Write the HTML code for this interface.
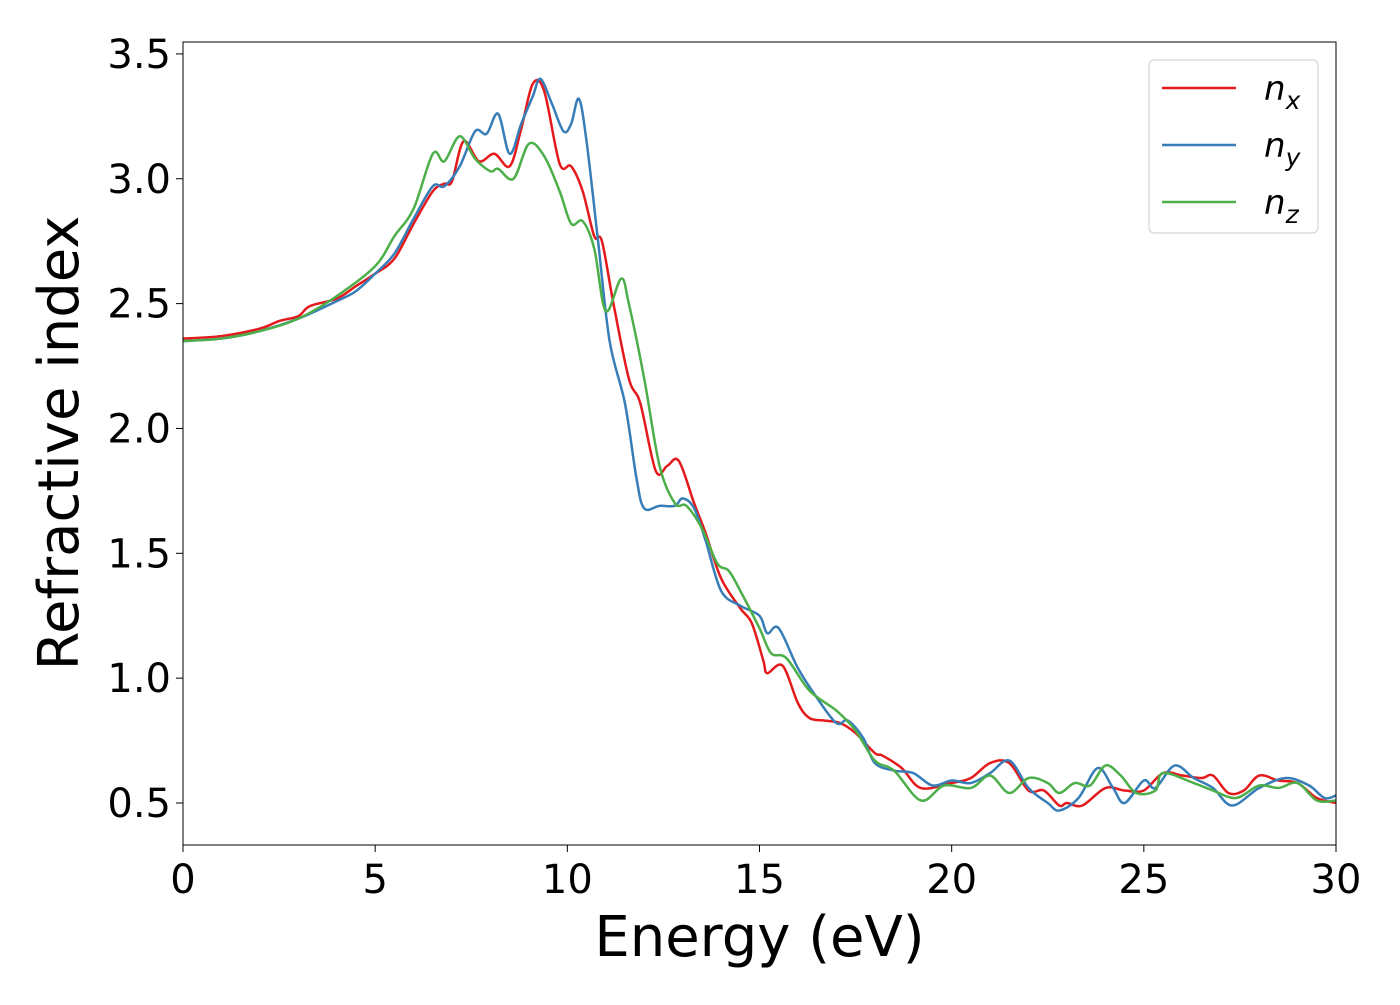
<!DOCTYPE html>
<html><head><meta charset="utf-8"><style>
body{margin:0;background:#fff;}
svg text{font-family:"DejaVu Sans","Liberation Sans",sans-serif;fill:#000;}
</style></head><body>
<svg id="chart" width="1400" height="1000" xmlns="http://www.w3.org/2000/svg">
<g id="plot"></g>
</svg>
<script>
const nxE=[0,1,2,2.5,3,3.3,4,4.5,5,5.5,6,6.5,6.8,7,7.3,7.7,8.1,8.5,8.8,9.1,9.4,9.8,10.1,10.4,10.7,10.9,11.2,11.6,11.9,12.3,12.6,12.9,13.3,13.6,14,14.5,14.8,15.1,15.2,15.6,16,16.3,16.7,17.1,17.5,18,18.2,18.7,19.2,20,20.5,21,21.5,22,22.4,22.8,23,23.4,24,24.5,25,25.5,26,26.5,26.8,27.2,27.6,28,28.5,29,29.5,30];
const nxV=[2.36,2.37,2.40,2.43,2.45,2.49,2.52,2.57,2.62,2.68,2.82,2.95,2.98,2.99,3.15,3.07,3.10,3.05,3.2,3.38,3.35,3.06,3.05,2.95,2.77,2.75,2.50,2.20,2.10,1.83,1.85,1.87,1.70,1.58,1.40,1.28,1.22,1.07,1.02,1.05,0.90,0.84,0.83,0.82,0.78,0.70,0.69,0.64,0.56,0.58,0.60,0.66,0.66,0.55,0.55,0.49,0.50,0.49,0.56,0.55,0.55,0.62,0.61,0.60,0.61,0.54,0.55,0.61,0.59,0.58,0.52,0.50];
const nyE=[0,1,2,3,4,4.5,5,5.5,6,6.5,6.8,7.2,7.6,7.9,8.2,8.5,8.8,9.1,9.3,9.6,9.9,10.1,10.3,10.5,10.8,11.1,11.5,11.8,12,12.4,12.8,13,13.3,13.6,14,14.5,15,15.2,15.5,16,16.5,17,17.3,17.7,18,18.5,19,19.5,20,20.5,21,21.5,22,22.5,22.8,23.3,23.8,24.2,24.5,25,25.3,25.8,26.3,26.8,27.3,28,28.7,29.3,29.7,30];
const nyV=[2.35,2.36,2.39,2.44,2.51,2.55,2.62,2.70,2.84,2.97,2.97,3.05,3.19,3.18,3.26,3.10,3.22,3.33,3.40,3.30,3.19,3.22,3.32,3.15,2.75,2.35,2.10,1.80,1.68,1.69,1.69,1.72,1.68,1.55,1.35,1.29,1.25,1.18,1.20,1.04,0.92,0.82,0.83,0.76,0.66,0.63,0.62,0.57,0.59,0.58,0.62,0.67,0.56,0.50,0.47,0.52,0.64,0.56,0.50,0.59,0.56,0.65,0.60,0.56,0.49,0.56,0.60,0.57,0.52,0.53];
const nzE=[0,1,2,3,4,5,5.5,6,6.5,6.8,7.2,7.6,8,8.2,8.6,9,9.4,9.8,10.1,10.4,10.7,11,11.4,11.6,12,12.4,12.8,13.1,13.5,13.9,14.2,14.5,15,15.3,15.7,16.3,17,17.5,18,18.5,19.2,19.8,20.5,21,21.5,22,22.5,22.8,23.2,23.6,24,24.4,24.8,25.3,25.5,26.3,26.8,27.4,28,28.5,29,29.5,30];
const nzV=[2.35,2.36,2.39,2.44,2.53,2.65,2.77,2.88,3.10,3.07,3.17,3.08,3.03,3.04,3.00,3.14,3.09,2.95,2.82,2.83,2.72,2.47,2.60,2.50,2.20,1.85,1.70,1.69,1.60,1.46,1.43,1.35,1.20,1.10,1.08,0.95,0.87,0.79,0.67,0.63,0.51,0.57,0.56,0.61,0.54,0.60,0.58,0.54,0.58,0.57,0.65,0.61,0.54,0.55,0.62,0.58,0.55,0.52,0.57,0.56,0.58,0.51,0.51];
const xTicks=[0,5,10,15,20,25,30];
const yTicks=[0.5,1.0,1.5,2.0,2.5,3.0,3.5];

const L=183,R=1336,T=42,B=845;
const xs=e=>L+(e-0)/30*(R-L);
const ys=v=>803-(v-0.5)*249.7;
const NS='http://www.w3.org/2000/svg';
const g=document.getElementById('plot');
function mk(tag,attrs){const el=document.createElementNS(NS,tag);for(const k in attrs)el.setAttribute(k,attrs[k]);g.appendChild(el);return el;}
function pathD(E,V){
  const p=E.map((e,i)=>[xs(e),ys(V[i])]);
  let d='M'+p[0][0]+','+p[0][1];
  for(let i=0;i<p.length-1;i++){
    const p0=p[Math.max(0,i-1)],p1=p[i],p2=p[i+1],p3=p[Math.min(p.length-1,i+2)];
    const c1=[p1[0]+(p2[0]-p0[0])/6,p1[1]+(p2[1]-p0[1])/6];
    const c2=[p2[0]-(p3[0]-p1[0])/6,p2[1]-(p3[1]-p1[1])/6];
    d+=' C'+c1[0]+','+c1[1]+' '+c2[0]+','+c2[1]+' '+p2[0]+','+p2[1];
  }
  return d;
}
const clip=mk('clipPath',{id:'clip'});
const cr=document.createElementNS(NS,'rect');cr.setAttribute('x',L);cr.setAttribute('y',T);cr.setAttribute('width',R-L);cr.setAttribute('height',B-T);clip.appendChild(cr);
const series=[[nxE,nxV,'#e41a1c','series-nx'],[nyE,nyV,'#377eb8','series-ny'],[nzE,nzV,'#4daf4a','series-nz']];
series.forEach(s=>{
  const p=mk('path',{d:pathD(s[0],s[1]),fill:'none',stroke:s[2],'stroke-width':2.5,'clip-path':'url(#clip)'});
  
  
});
const frame=mk('rect',{x:L,y:T,width:R-L,height:B-T,fill:'none',stroke:'#000','stroke-width':1});


xTicks.forEach(t=>{
  const x=xs(t);
  const tk=mk('line',{x1:x,x2:x,y1:B,y2:B+7,stroke:'#000','stroke-width':1});
  
  
  const tx=mk('text',{x:x,y:B+48,'text-anchor':'middle','font-size':40});
  tx.textContent=t;
  
  
});
yTicks.forEach(t=>{
  const y=ys(t);
  const tk=mk('line',{x1:L-7,x2:L,y1:y,y2:y,stroke:'#000','stroke-width':1});
  
  
  const tx=mk('text',{x:L-12,y:y+14,'text-anchor':'end','font-size':40});
  tx.textContent=t.toFixed(1);
  
  
});
const xl=mk('text',{x:(L+R)/2,y:956,'text-anchor':'middle','font-size':56});
xl.textContent='Energy (eV)';


const yl=mk('text',{x:0,y:0,'text-anchor':'middle','font-size':56,transform:'translate(78,443) rotate(-90)'});
yl.textContent='Refractive index';


const lg=mk('rect',{x:1149,y:60,width:169,height:173,rx:5,fill:'#fff',stroke:'#ccc','stroke-width':1});


const labs=[['n','x'],['n','y'],['n','z']];
series.forEach((s,i)=>{
  const y=88+i*57;
  const ln=mk('line',{x1:1162,x2:1236,y1:y,y2:y,stroke:s[2],'stroke-width':2.5});
  
  
  const tx=mk('text',{x:1264,y:y+12,'font-size':34,'font-style':'italic'});
  tx.innerHTML=labs[i][0]+'<tspan dy="9" font-size="25">'+labs[i][1]+'</tspan>';
  
  
});
</script>
</body></html>
